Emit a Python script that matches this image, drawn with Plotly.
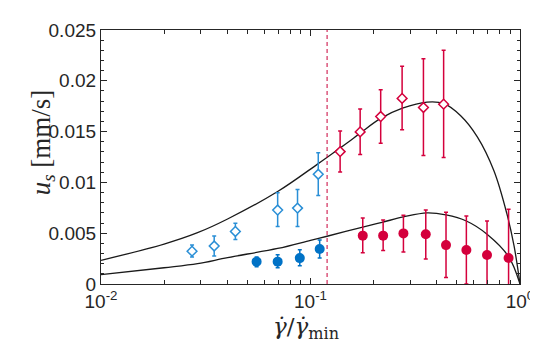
import plotly.graph_objects as go

# model curves
fit_hi_x = [0.01, 0.02, 0.0289, 0.0402, 0.0697, 0.108, 0.1345, 0.15, 0.1738, 0.2163, 0.2747,
            0.36, 0.434, 0.521, 0.6256, 0.7515, 0.8642, 0.9363, 1.0]
fit_hi_y = [0.00233, 0.00393, 0.00505, 0.0064, 0.0091, 0.0118, 0.0132, 0.0139, 0.0149, 0.0163, 0.0173,
            0.0179, 0.01775, 0.01656, 0.01448, 0.01112, 0.00697, 0.00377, 0.0]
fit_lo_x = [0.01, 0.02, 0.0289, 0.0402, 0.0697, 0.1, 0.12, 0.1776, 0.2222, 0.2777, 0.36,
            0.4435, 0.5546, 0.696, 0.882, 1.0]
fit_lo_y = [0.00093, 0.0016, 0.002, 0.0026, 0.0035, 0.0043, 0.0047, 0.0056, 0.0061, 0.0066, 0.0070,
            0.0068, 0.0062, 0.0049, 0.0027, 0.0]

# blue data
blue_open_x = [0.0272, 0.0347, 0.0438, 0.0697, 0.0867, 0.1089]
blue_open_y = [0.00323, 0.00374, 0.00517, 0.00728, 0.00747, 0.0108]
blue_open_hi = [0.00383, 0.00472, 0.00597, 0.00897, 0.0093, 0.01293]
blue_open_lo = [0.00265, 0.00275, 0.00438, 0.00565, 0.00565, 0.00872]

blue_fill_x = [0.0553, 0.0697, 0.0889, 0.1106]
blue_fill_y = [0.0022, 0.0022, 0.00255, 0.00345]
blue_fill_hi = [0.00265, 0.00287, 0.00338, 0.00434]
blue_fill_lo = [0.0017, 0.0016, 0.00179, 0.00256]

# red data
red_open_x = [0.1385, 0.1726, 0.2163, 0.2737, 0.346, 0.432]
red_open_y = [0.01303, 0.01497, 0.01648, 0.01827, 0.01737, 0.0177]
red_open_hi = [0.01507, 0.01722, 0.01913, 0.02143, 0.02216, 0.0230]
red_open_lo = [0.01102, 0.01274, 0.01386, 0.01517, 0.01265, 0.01245]

red_fill_x = [0.1776, 0.2222, 0.2777, 0.355, 0.4435, 0.5546, 0.696, 0.882]
red_fill_y = [0.00476, 0.00476, 0.00498, 0.00489, 0.00383, 0.00335, 0.00285, 0.00256]
red_fill_hi = [0.00649, 0.0063, 0.00677, 0.00728, 0.00706, 0.0067, 0.0062, 0.00735]
red_fill_lo = [0.00307, 0.00329, 0.00316, 0.00246, 0.00064, 0.0, -0.0005, -0.0022]

threshold = 0.12

BLUE = '#0072C6'
BLUE_L = '#2A8FD6'
RED = '#D4003C'
AX = '#262626'


def errs(y, hi, lo):
    return [h - v for v, h in zip(y, hi)], [v - l for v, l in zip(y, lo)]


fig = go.Figure()

for fx, fy in [(fit_hi_x, fit_hi_y), (fit_lo_x, fit_lo_y)]:
    fig.add_trace(go.Scatter(x=fx, y=fy, mode='lines',
                             line=dict(color='#1a1a1a', width=1.3, shape='spline', smoothing=1.0),
                             showlegend=False, hoverinfo='skip'))

sets = [
    (blue_open_x, blue_open_y, blue_open_hi, blue_open_lo, BLUE_L, True),
    (blue_fill_x, blue_fill_y, blue_fill_hi, blue_fill_lo, BLUE, False),
    (red_open_x, red_open_y, red_open_hi, red_open_lo, RED, True),
    (red_fill_x, red_fill_y, red_fill_hi, red_fill_lo, RED, False),
]
for x, y, hi, lo, col, is_open in sets:
    up, down = errs(y, hi, lo)
    if is_open:
        marker = dict(symbol='diamond', size=7.5, color='white', line=dict(color=col, width=1.5))
    else:
        marker = dict(symbol='circle', size=10, color=col, line=dict(width=0))
    fig.add_trace(go.Scatter(
        x=x, y=y, mode='markers', marker=marker, showlegend=False,
        error_y=dict(type='data', array=up, arrayminus=down, color=col, thickness=1.5, width=2),
    ))

fig.add_shape(type='line', x0=threshold, x1=threshold, y0=0, y1=1, xref='x', yref='paper',
              line=dict(color='#C8003A', width=1, dash='4px,3px'))

tickfont = dict(family='Liberation Sans, Arial', size=19, color=AX)
fig.update_xaxes(type='log', range=[-2, 0], tickvals=[0.01, 0.1, 1],
                 ticktext=['10<sup>-2</sup>', '10<sup>-1</sup>', '10<sup>0</sup>'],
                 ticks='inside', ticklen=6, tickcolor=AX, showline=True, linecolor=AX, linewidth=1.2,
                 mirror='allticks', showgrid=False, zeroline=False,
                 minor=dict(ticks='inside', ticklen=4, dtick='D1', tickcolor=AX, showgrid=False),
                 tickfont=tickfont)
fig.update_yaxes(range=[0, 0.025], dtick=0.005, ticks='inside', ticklen=6, tickcolor=AX,
                 showline=True, linecolor=AX, linewidth=1.2, mirror='allticks', showgrid=False, zeroline=False,
                 minor=dict(ticks='inside', ticklen=3, dtick=0.001, tickcolor=AX, showgrid=False),
                 tickfont=tickfont)

fig.add_annotation(text='<i>u<sub>s</sub></i> [mm/s]', xref='paper', yref='paper', x=-0.185, y=0.56,
                   textangle=-90, showarrow=False,
                   font=dict(family='Liberation Serif, DejaVu Serif', size=27, color=AX))
fig.add_annotation(text='<i>γ̇</i>/<i>γ̇</i><sub>min</sub>', xref='paper', yref='paper', x=0.49, y=-0.175,
                   yanchor='middle', showarrow=False,
                   font=dict(family='DejaVu Serif', size=23, color=AX))

fig.update_layout(width=538, height=344, margin=dict(l=93, r=26, t=15, b=68),
                  plot_bgcolor='white', paper_bgcolor='white')

fig.write_html("out.html")
